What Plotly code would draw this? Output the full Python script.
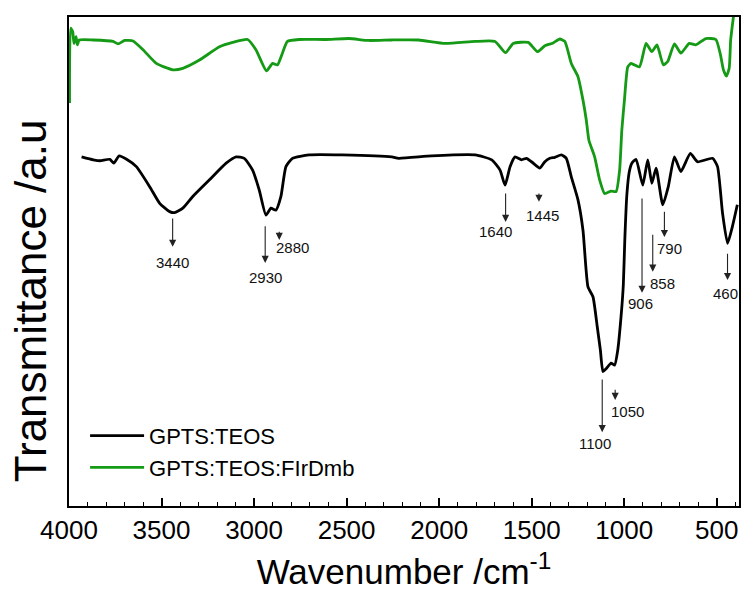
import plotly.graph_objects as go

# ---------------- data ----------------
wn_teos = [3932, 3869, 3833, 3779, 3758, 3729, 3689, 3636, 3564, 3510, 3456, 3430, 3385, 3331,
           3241, 3151, 3097, 3053, 3008, 2972, 2936, 2909, 2882, 2855, 2828, 2793, 2703, 2525,
           2256, 2219, 2041, 1806, 1716, 1671, 1644, 1617, 1590, 1555, 1528, 1501, 1456, 1429,
           1402, 1375, 1340, 1313, 1286, 1250, 1223, 1196, 1169, 1146, 1129, 1115, 1097, 1071,
           1052, 1035, 1018, 1005, 997, 986, 973, 959, 936, 900, 873, 851, 828, 792, 762, 729,
           694, 643, 604, 523, 496, 469, 442, 416, 389]
t_teos = [71.4, 70.8, 70.6, 70.9, 70.1, 71.6, 70.9, 69.4, 65.3, 61.9, 60.2, 60.0, 60.9, 63.3,
          66.7, 70.1, 71.4, 71.1, 68.7, 64.6, 59.5, 60.9, 60.5, 63.3, 69.4, 71.1, 71.8, 71.8,
          71.4, 71.1, 71.6, 71.8, 70.8, 68.7, 65.6, 69.4, 71.4, 70.8, 71.1, 70.4, 69.1, 70.4,
          71.1, 71.3, 71.8, 71.1, 67.3, 62.6, 56.4, 44.8, 42.8, 36.7, 31.9, 27.5, 28.1, 29.2,
          28.8, 31.9, 38.4, 45.2, 54.4, 63.6, 68.3, 70.1, 70.9, 65.6, 70.8, 66.0, 69.1, 61.6,
          65.3, 71.4, 68.4, 72.1, 70.4, 71.1, 69.4, 59.9, 53.7, 57.1, 61.6]

wn_flr = [3997, 3991, 3980, 3973, 3962, 3955, 3945, 3869, 3762, 3735, 3699, 3654, 3600, 3528,
          3439, 3385, 3295, 3187, 3116, 3035, 2990, 2933, 2900, 2874, 2847, 2820, 2757, 2613,
          2488, 2380, 2255, 2111, 1967, 1806, 1698, 1641, 1600, 1519, 1469, 1429, 1384, 1348,
          1321, 1286, 1250, 1223, 1205, 1191, 1160, 1133, 1106, 1071, 1044, 1025, 1013, 999,
          981, 963, 918, 882, 851, 823, 789, 765, 729, 694, 649, 613, 559, 505, 482, 464, 448,
          433, 425, 410, 399]
t_flr = [82.4, 97.7, 97.0, 94.6, 96.0, 94.3, 95.3, 95.3, 95.0, 94.5, 95.2, 95.1, 93.3, 90.5,
         89.2, 89.5, 91.2, 93.9, 94.8, 95.4, 93.3, 89.0, 90.5, 90.2, 92.6, 95.0, 95.4, 95.4,
         95.6, 95.2, 95.3, 95.3, 94.6, 95.0, 95.0, 92.7, 94.6, 94.8, 92.9, 94.1, 94.7, 95.5,
         95.0, 90.5, 87.8, 83.0, 78.9, 74.8, 71.4, 66.7, 63.9, 64.4, 64.3, 68.7, 76.9, 83.0,
         89.8, 90.5, 89.8, 94.6, 92.9, 94.3, 90.2, 90.9, 94.5, 92.6, 94.6, 94.3, 95.6, 95.4,
         92.6, 89.2, 87.9, 89.5, 95.3, 100.1, 103.5]

series_names = ["GPTS:TEOS", "GPTS:TEOS:FIrDmb"]
series_colors = ["#000000", "#159a15"]

# peak labels
peak_labels = ["3440", "2930", "2880", "1640", "1445", "906", "858", "790", "460", "1100", "1050"]
# arrow: x (wavenumber), tail y, head y
arrow_x = [3440, 2940, 2864, 1641, 1461, 904, 846, 783, 442, 1119, 1049]
arrow_tail = [59.1, 57.5, 56.4, 64.2, 64.2, 63.2, 55.8, 60.5, 51.9, 26.2, 24.1]
arrow_head = [53.0, 49.7, 54.4, 58.1, 62.2, 43.6, 47.9, 55.0, 46.2, 15.1, 21.7]
# label centre positions
label_x = [3440, 2940, 2794, 1698, 1444, 912, 792, 756, 451, 1160, 981]
label_y = [49.7, 46.8, 52.8, 56.2, 59.5, 41.4, 45.5, 52.7, 43.5, 12.8, 19.4]

xticks = [4000, 3500, 3000, 2500, 2000, 1500, 1000, 500]

FONT = "Liberation Sans, Arial, sans-serif"

fig = go.Figure()
fig.add_trace(go.Scatter(x=wn_teos, y=t_teos, mode="lines", name=series_names[0],
                         line=dict(color=series_colors[0], width=2.8, shape="spline", smoothing=0.5)))
fig.add_trace(go.Scatter(x=wn_flr, y=t_flr, mode="lines", name=series_names[1],
                         line=dict(color=series_colors[1], width=2.8, shape="spline", smoothing=0.5)))

ann = []
for i in range(len(peak_labels)):
    ann.append(dict(x=arrow_x[i], y=arrow_head[i], ax=arrow_x[i], ay=arrow_tail[i],
                    xref="x", yref="y", axref="x", ayref="y", text="",
                    showarrow=True, arrowhead=2, arrowsize=1.3, arrowwidth=1.1,
                    arrowcolor="#222222", standoff=0, startstandoff=0))
    ann.append(dict(x=label_x[i], y=label_y[i], xref="x", yref="y", text=peak_labels[i],
                    showarrow=False, font=dict(family=FONT, size=15, color="#111111"),
                    xanchor="center", yanchor="middle"))

# y-axis title (placed as in the reference, slightly below the axis centre)
ann.append(dict(x=-0.058, y=0.419, xref="paper", yref="paper", text="Transmittance /a.u",
                textangle=-90, showarrow=False, xanchor="center", yanchor="middle",
                font=dict(family=FONT, size=44, color="black")))

fig.update_layout(
    width=745, height=597,
    margin=dict(l=69, r=4, t=17, b=91),
    paper_bgcolor="white", plot_bgcolor="white",
    font=dict(family=FONT, color="black"),
    showlegend=True,
    legend=dict(x=0.024, y=0.035, xanchor="left", yanchor="bottom",
                font=dict(family=FONT, size=22, color="black"),
                bgcolor="rgba(0,0,0,0)", itemwidth=54, tracegroupgap=0),
    annotations=ann,
)
fig.update_xaxes(range=[4000, 380], tickmode="array", tickvals=xticks,
                 ticktext=[str(v) for v in xticks],
                 ticks="inside", ticklen=8, tickwidth=1.5, tickcolor="black",
                 minor=dict(dtick=100, ticks="inside", ticklen=4, tickwidth=1.2, tickcolor="black",
                            tick0=0),
                 showline=True, linewidth=2, linecolor="black", mirror=True,
                 showgrid=False, zeroline=False,
                 tickfont=dict(family=FONT, size=26, color="black"),
                 title=dict(text="Wavenumber /cm<sup>-1</sup>",
                            font=dict(family=FONT, size=35, color="black"), standoff=15))
fig.update_yaxes(range=[0, 100], showticklabels=False, ticks="",
                 showline=True, linewidth=2, linecolor="black", mirror=True,
                 showgrid=False, zeroline=False)

fig.write_html("out.html")
